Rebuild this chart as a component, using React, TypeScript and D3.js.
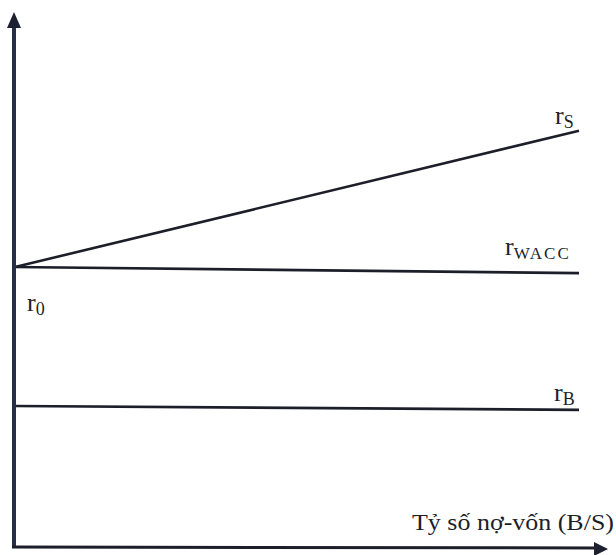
import React from "react";
import * as d3 from "d3";

// Debt-equity ratio (B/S) domain endpoints
const ratios = [0, 1];
// Rates at the two ends of each line (arbitrary units)
const rS = [10, 14.9];
const rWACC = [10, 9.78];
const rB = [5, 4.86];
const seriesNames = ["rS", "rWACC", "rB"];
const axisLabelX = "Tỷ số nợ-vốn (B/S)";
const originLabel = "r";
const originSub = "0";

const W = 616;
const H = 555;

export default function App() {
  const x = d3.scaleLinear().domain([0, 1]).range([15, 579]);
  const y = d3.scaleLinear().domain([0, 20]).range([545, -11]);
  const line = d3
    .line<[number, number]>()
    .x((d) => x(d[0]))
    .y((d) => y(d[1]));
  const mk = (vals: number[]) => ratios.map((r, i) => [r, vals[i]] as [number, number]);
  const series = [rS, rWACC, rB];
  const labelPos = [
    { dx: -24, dy: -7, main: "r", sub: "S", subSize: 18, ls: 0 },
    { dx: -74, dy: -18, main: "r", sub: "WACC", subSize: 17, ls: 2 },
    { dx: -25, dy: -9, main: "r", sub: "B", subSize: 18, ls: 0 },
  ];
  const font = "'Liberation Serif', 'Times New Roman', serif";
  const ink = "#1c1f2a";
  return (
    <svg
      width={W}
      height={H}
      style={{ position: "absolute", left: 0, top: 0, background: "#fff" }}
      fontFamily={font}
    >
      {series.map((vals, i) => (
        <path key={seriesNames[i]} d={line(mk(vals)) || ""} fill="none" stroke={ink} strokeWidth={2.6} />
      ))}
      {series.map((vals, i) => {
        const p = labelPos[i];
        const px = x(1) + p.dx;
        const py = y(vals[1]) + p.dy;
        return (
          <text key={"l" + i} x={px} y={py} fontSize={26} fill={ink}>
            {p.main}
            <tspan fontSize={p.subSize} dy={4} letterSpacing={p.ls}>
              {p.sub}
            </tspan>
          </text>
        );
      })}
      {/* origin label */}
      <text x={27} y={311} fontSize={26} fill={ink}>
        {originLabel}
        <tspan fontSize={18} dy={4}>
          {originSub}
        </tspan>
      </text>
      {/* y axis */}
      <line x1={14} y1={548} x2={14} y2={24} stroke="#272e48" strokeWidth={4} />
      <path d="M14,12 L7,28 L21,28 Z" fill="#1c2030" />
      {/* x axis */}
      <line x1={12} y1={547} x2={598} y2={548} stroke={ink} strokeWidth={3} />
      <path d="M608,549 L594,542 L594,556 Z" fill="#1c2030" />
      <text x={412} y={530} fontSize={23} fill={ink} textLength={202} lengthAdjust="spacingAndGlyphs">
        {axisLabelX}
      </text>
    </svg>
  );
}
